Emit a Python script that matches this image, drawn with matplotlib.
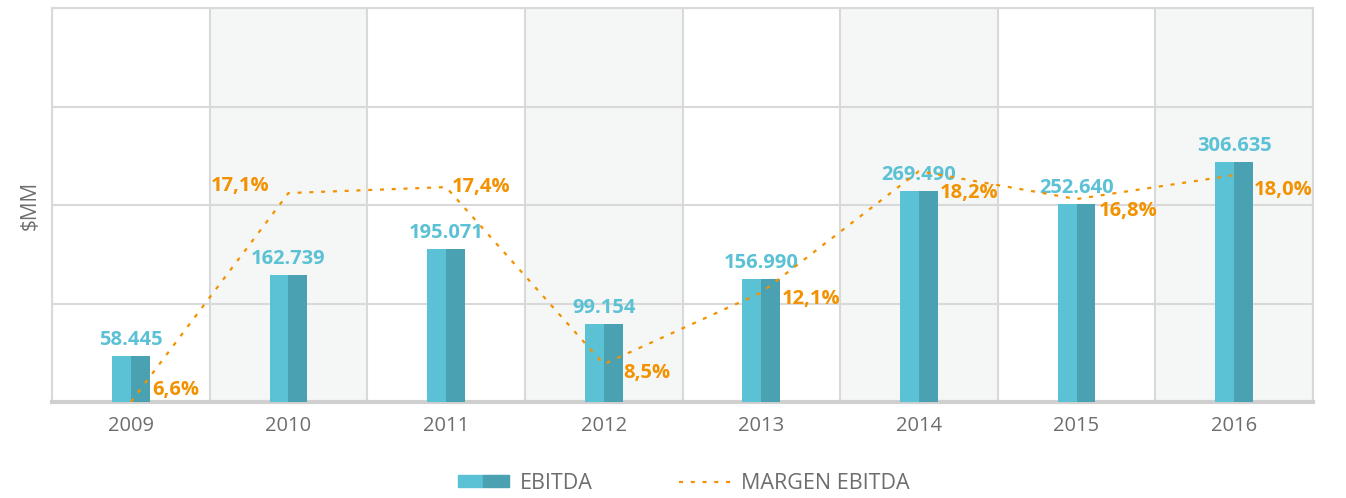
import numpy as np
import matplotlib.pyplot as plt
from matplotlib.patches import Patch
from matplotlib.lines import Line2D
from matplotlib.legend_handler import HandlerTuple

years = ['2009', '2010', '2011', '2012', '2013', '2014', '2015', '2016']
ebitda = [58.445, 162.739, 195.071, 99.154, 156.990, 269.490, 252.640, 306.635]
margen = [6.6, 17.1, 17.4, 8.5, 12.1, 18.2, 16.8, 18.0]

# label offsets (pixels) for the margin labels: (dx, dy, ha)
pct_offsets = [(21, 12, 'left'), (-19, 7, 'right'), (6, 0, 'left'), (20, -9, 'left'),
               (20, -6, 'left'), (21, -22, 'left'), (22, -12, 'left'), (20, -15, 'left')]

c_light = '#5BC1D4'
c_dark = '#4AA1B1'
c_orange = '#F39200'
c_grid = '#D9D9D9'
c_text = '#6D6D6D'

plt.rcParams['font.family'] = ['Open Sans', 'DejaVu Sans']

fig = plt.figure(figsize=(13.46, 4.98), dpi=100)
ax = fig.add_axes([52 / 1346, 1 - 402 / 498, (1313 - 52) / 1346, (402 - 8) / 498])
x = np.arange(len(years))

for i in x:
    if i % 2 == 1:
        ax.axvspan(i - 0.5, i + 0.5, color='#F5F7F6', zorder=0, lw=0)
for i in range(len(years) + 1):
    ax.axvline(i - 0.5, color=c_grid, lw=1.5, zorder=1)

w = 0.12
ax.bar(x - w / 2, ebitda, width=w, color=c_light, zorder=3)
ax.bar(x + w / 2, ebitda, width=w, color=c_dark, zorder=3)

ax.set_ylim(0, 503)
ax.set_xlim(-0.5, len(years) - 0.5)
ax.set_yticks([0, 125.75, 251.5, 377.25, 503])
ax.yaxis.grid(True, color=c_grid, lw=1.5, zorder=1)
ax.set_axisbelow(True)
ax.set_xticks(x)
ax.set_xticklabels(years)
for s in ['top', 'right', 'left']:
    ax.spines[s].set_color(c_grid)
    ax.spines[s].set_linewidth(1.5)
ax.spines['bottom'].set_color('#CFCFCF')
ax.spines['bottom'].set_linewidth(3)
ax.set_ylabel('$MM', fontsize=15, color=c_text, labelpad=8)

for xi, v in zip(x, ebitda):
    ax.annotate(f'{v:.3f}', (xi, v), xytext=(0, 6), textcoords='offset pixels',
                ha='center', va='bottom', fontsize=14.5, fontweight='bold',
                color=c_light, zorder=5)

ax2 = ax.twinx()
ax2.set_ylim(6.6, 26.4)
ax2.plot(x, margen, color=c_orange, lw=1.6, linestyle=(0, (1.8, 3.5)), zorder=4)
ax2.axis('off')
for xi, m, (dx, dy, ha) in zip(x, margen, pct_offsets):
    ax2.annotate(f'{m:.1f}%'.replace('.', ','), (xi, m), xytext=(dx, dy),
                 textcoords='offset pixels', ha=ha, va='center', fontsize=14.5,
                 fontweight='bold', color=c_orange, zorder=5, annotation_clip=False)

# twinx turns the left ticks back on
ax.tick_params(axis='y', left=False, labelleft=False, right=False, labelright=False)
ax.tick_params(axis='x', length=0, pad=10, labelsize=14.5, labelcolor=c_text)

h_bar = (Patch(color=c_light), Patch(color=c_dark))
h_line = Line2D([], [], color=c_orange, lw=1.6, linestyle=(0, (1.8, 3.5)))
fig.legend([h_bar, h_line], ['EBITDA', 'MARGEN EBITDA'], loc='lower center',
           bbox_to_anchor=(0.508, -0.03), ncol=2, frameon=False, fontsize=15.5,
           labelcolor=c_text, handlelength=2.4, handleheight=0.45,
           columnspacing=4.0, handletextpad=0.5,
           handler_map={tuple: HandlerTuple(ndivide=None, pad=0)})

fig.savefig('out.png', dpi=100)
